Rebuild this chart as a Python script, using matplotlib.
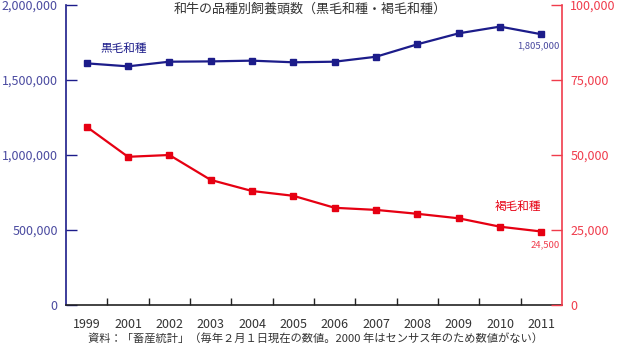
import numpy as np
from matplotlib import pyplot as plt

plt.rcParams["font.family"] = ["Noto Sans CJK JP", "DejaVu Sans"]

years = ["1999", "2001", "2002", "2003", "2004", "2005",
         "2006", "2007", "2008", "2009", "2010", "2011"]
kuroge = [1611000, 1591000, 1622000, 1624000, 1629000, 1618000,
          1622000, 1655000, 1738000, 1811000, 1856000, 1805000]
kassmo = [59400, 49400, 50000, 41700, 38000, 36400,
          32400, 31700, 30400, 28900, 26100, 24500]

left_ticks = [0, 500000, 1000000, 1500000, 2000000]
right_ticks = [0, 25000, 50000, 75000, 100000]

navy = "#1c1c8a"
navy_text = "#4a4aa0"
red = "#e60012"
red_axis = "#f03c4c"

fig = plt.figure(figsize=(6.2, 3.5), dpi=100)
ax = fig.add_axes([66 / 620, 45 / 350, 496 / 620, 300 / 350])
ax2 = ax.twinx()

x = np.arange(len(years))
ax.plot(x, kuroge, color=navy, lw=1.6, marker="s", ms=5, zorder=3)
ax2.plot(x, kassmo, color=red, lw=1.6, marker="s", ms=5, zorder=3)

ax.set_xlim(-0.5, len(years) - 0.5)
ax.set_ylim(0, 2000000)
ax2.set_ylim(0, 100000)

# y axes
ax.set_yticks(left_ticks)
ax.set_yticklabels([f"{v:,}" for v in left_ticks])
ax.tick_params(axis="y", direction="in", length=8, width=1, color=navy,
               labelcolor=navy_text, labelsize=9, pad=6)
ax2.set_yticks(right_ticks)
ax2.set_yticklabels([f"{v:,}" for v in right_ticks])
ax2.tick_params(axis="y", direction="in", length=8, width=1, color=red_axis,
                labelcolor=red_axis, labelsize=9, pad=6)

# x axis: labels at centres, tick marks between categories
ax.set_xticks(x)
ax.set_xticklabels(years)
ax.set_xticks(np.arange(0.5, len(years) - 0.5), minor=True)
ax.tick_params(axis="x", which="major", length=0, labelsize=9,
               labelcolor="#333333", pad=9)
ax.tick_params(axis="x", which="minor", direction="in", length=5,
               width=1, color="#222222")

for a in (ax, ax2):
    a.spines["top"].set_visible(False)
ax.spines["right"].set_visible(False)
ax.spines["left"].set_color(navy)
ax.spines["left"].set_linewidth(1.2)
ax.spines["bottom"].set_color("#222222")
ax.spines["bottom"].set_linewidth(1.2)
ax2.spines["left"].set_visible(False)
ax2.spines["bottom"].set_visible(False)
ax2.spines["right"].set_color(red_axis)
ax2.spines["right"].set_linewidth(1.2)

# labels
ax.text(0.9, 1713000, "黒毛和種", color=navy, fontsize=8.4,
        ha="center", va="center")
ax2.text(10.44, 32700, "褐毛和種", color=red, fontsize=8.4,
         ha="center", va="center")
ax.text(len(years) - 0.55, kuroge[-1] - 78000, f"{kuroge[-1]:,}",
        color=navy_text, fontsize=6.8, ha="right", va="center")
ax2.text(len(years) - 0.55, kassmo[-1] - 4500, f"{kassmo[-1]:,}",
         color=red_axis, fontsize=6.8, ha="right", va="center")

fig.text(310 / 620, 1 - 9 / 350, "和牛の品種別飼養頭数（黒毛和種・褐毛和種）",
         fontsize=9.4, color="#333333", ha="center", va="center")
fig.text(316 / 620, 1 - 339 / 350,
         "資料：「畜産統計」（毎年２月１日現在の数値。2000 年はセンサス年のため数値がない）",
         fontsize=8.1, color="#333333", ha="center", va="center")

fig.savefig("out.png", dpi=100)
